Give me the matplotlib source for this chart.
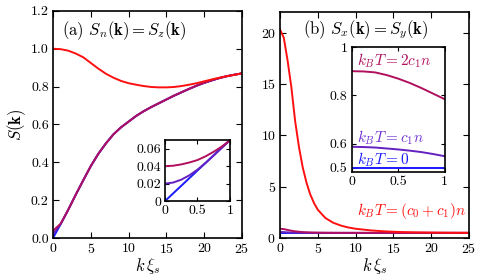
import matplotlib
matplotlib.use("Agg")
import matplotlib.pyplot as plt

plt.rcParams['font.family'] = 'cmr10'
plt.rcParams['mathtext.fontset'] = 'cm'
plt.rcParams['axes.formatter.use_mathtext'] = True
plt.rcParams['axes.unicode_minus'] = False

c_blue = '#1a1aff'
c_purple = '#6420c0'
c_crimson = '#b0105e'
c_red = '#ff1010'

# ---- panel (a): S_n(k) = S_z(k) ----
k_a = [0, 1, 2, 3, 4, 5, 6, 7, 8, 9, 10, 11, 12, 13, 14, 15, 16, 17, 18, 19,
       20, 21, 22, 23, 24, 25]
sn_T0 = [0, 0.072, 0.148, 0.228, 0.305, 0.38, 0.445, 0.5, 0.548, 0.585, 0.615,
         0.645, 0.67, 0.692, 0.712, 0.732, 0.752, 0.77, 0.788, 0.805, 0.82,
         0.833, 0.845, 0.855, 0.863, 0.87]
sn_c1 = [0.02, 0.073] + sn_T0[2:]
sn_2c1 = [0.038, 0.075] + sn_T0[2:]
sn_hot = [1.0, 0.998, 0.99, 0.975, 0.955, 0.925, 0.895, 0.868, 0.847, 0.83,
          0.818, 0.81, 0.803, 0.798, 0.796, 0.796, 0.798, 0.803, 0.81, 0.818,
          0.828, 0.838, 0.847, 0.855, 0.862, 0.87]

# inset (a), small k
k_ai = [0, 0.125, 0.25, 0.375, 0.5, 0.625, 0.75, 0.875, 1.0]
sni_T0 = [0, 0.00875, 0.0175, 0.02625, 0.035, 0.04375, 0.0525, 0.06125, 0.07]
sni_c1 = [0.02, 0.0212, 0.0245, 0.0295, 0.036, 0.0437, 0.0522, 0.061, 0.0695]
sni_2c1 = [0.04, 0.0405, 0.042, 0.0442, 0.047, 0.0513, 0.0565, 0.0625, 0.0695]

# ---- panel (b): S_x(k) = S_y(k) ----
k_b = [0, 0.5, 1, 1.5, 2, 2.5, 3, 3.5, 4, 4.5, 5, 6, 7, 8, 9, 10, 12, 14, 16,
       18, 20, 22, 25]
sx_T0 = [0.5] * len(k_b)
sx_c1 = [0.587, 0.576, 0.55, 0.535, 0.525, 0.518, 0.513, 0.51, 0.507, 0.505,
         0.504, 0.502, 0.501, 0.5, 0.5, 0.5, 0.5, 0.5, 0.5, 0.5, 0.5, 0.5, 0.5]
sx_2c1 = [0.9, 0.869, 0.784, 0.71, 0.65, 0.61, 0.575, 0.555, 0.54, 0.53, 0.522,
          0.512, 0.507, 0.504, 0.502, 0.501, 0.5, 0.5, 0.5, 0.5, 0.5, 0.5, 0.5]
sx_hot = [20.3, 19.5, 17.3, 14.7, 11.4, 8.9, 6.9, 5.4, 4.25, 3.4, 2.75, 1.95,
          1.5, 1.22, 1.03, 0.9, 0.74, 0.64, 0.58, 0.55, 0.53, 0.515, 0.505]

# inset (b)
k_bi = [0, 0.125, 0.25, 0.375, 0.5, 0.625, 0.75, 0.875, 1.0]
sxi_T0 = [0.5] * len(k_bi)
sxi_c1 = [0.587, 0.586, 0.584, 0.58, 0.576, 0.571, 0.565, 0.557, 0.548]
sxi_2c1 = [0.9, 0.899, 0.895, 0.884, 0.869, 0.851, 0.83, 0.807, 0.784]

fig = plt.figure(figsize=(4.84, 2.80), dpi=100)
ax1 = fig.add_axes([0.1095, 0.15, 0.3905, 0.811])
ax2 = fig.add_axes([0.5785, 0.15, 0.3905, 0.807])
ins1 = fig.add_axes([0.341, 0.282, 0.134, 0.218])
ins2 = fig.add_axes([0.727, 0.386, 0.192, 0.446])

lw = 1.4
for ax in (ax1, ax2, ins1, ins2):
    ax.tick_params(direction='in', top=True, right=True, labelsize=10,
                   length=4, width=0.8, pad=3)
    for s in ax.spines.values():
        s.set_linewidth(1.2)

# panel (a)
ax1.plot(k_a, sn_T0, color=c_blue, lw=lw)
ax1.plot(k_a, sn_c1, color=c_purple, lw=lw)
ax1.plot(k_a, sn_2c1, color=c_crimson, lw=lw)
ax1.plot(k_a, sn_hot, color=c_red, lw=lw)
ax1.set_xlim(0, 25)
ax1.set_ylim(0, 1.2)
ax1.set_xticks([0, 5, 10, 15, 20, 25])
ax1.set_yticks([0, 0.2, 0.4, 0.6, 0.8, 1.0, 1.2])
ax1.set_yticklabels(['0.0', '0.2', '0.4', '0.6', '0.8', '1.0', '1.2'])
ax1.set_xlabel(r'$k\,\xi_s$', fontsize=12, labelpad=0)
ax1.set_ylabel(r'$S(\mathbf{k})$', fontsize=12, labelpad=2)
ax1.text(0.045, 0.915, r'(a) $S_n(\mathbf{k})=S_z(\mathbf{k})$',
         transform=ax1.transAxes, fontsize=12, va='center', ha='left')

ins1.plot(k_ai, sni_T0, color=c_blue, lw=lw)
ins1.plot(k_ai, sni_c1, color=c_purple, lw=lw)
ins1.plot(k_ai, sni_2c1, color=c_crimson, lw=lw)
ins1.set_xlim(0, 1)
ins1.set_ylim(0, 0.07)
ins1.set_xticks([0, 0.5, 1])
ins1.set_xticklabels(['0', '0.5', '1'])
ins1.set_yticks([0, 0.02, 0.04, 0.06])
ins1.set_yticklabels(['0', '0.02', '0.04', '0.06'])
ins1.tick_params(length=3)

# panel (b)
ax2.plot(k_b, sx_T0, color=c_blue, lw=lw)
ax2.plot(k_b, sx_c1, color=c_purple, lw=lw)
ax2.plot(k_b, sx_2c1, color=c_crimson, lw=lw)
ax2.plot(k_b, sx_hot, color=c_red, lw=lw)
ax2.set_xlim(0, 25)
ax2.set_ylim(0, 22)
ax2.set_xticks([0, 5, 10, 15, 20, 25])
ax2.set_yticks([0, 5, 10, 15, 20])
ax2.set_xlabel(r'$k\,\xi_s$', fontsize=12, labelpad=0)
ax2.text(0.12, 0.92, r'(b) $S_x(\mathbf{k})=S_y(\mathbf{k})$',
         transform=ax2.transAxes, fontsize=12, va='center', ha='left')
ax2.text(0.41, 0.12, r'$k_BT=(c_0+c_1)n$', color=c_red,
         transform=ax2.transAxes, fontsize=11, va='center', ha='left')

ins2.plot(k_bi, sxi_T0, color=c_blue, lw=lw)
ins2.plot(k_bi, sxi_c1, color=c_purple, lw=lw)
ins2.plot(k_bi, sxi_2c1, color=c_crimson, lw=lw)
ins2.set_xlim(0, 1)
ins2.set_ylim(0.483, 1.0)
ins2.set_xticks([0, 0.5, 1])
ins2.set_xticklabels(['0', '0.5', '1'])
ins2.set_yticks([0.5, 0.6, 0.8, 1.0])
ins2.set_yticklabels(['0.5', '0.6', '0.8', '1'])
ins2.tick_params(length=3)
ins2.text(0.05, 0.89, r'$k_BT=2c_1n$', color=c_crimson,
          transform=ins2.transAxes, fontsize=11, va='center', ha='left')
ins2.text(0.05, 0.274, r'$k_BT=c_1n$', color='#7030d0',
          transform=ins2.transAxes, fontsize=11, va='center', ha='left')
ins2.text(0.05, 0.096, r'$k_BT=0$', color=c_blue,
          transform=ins2.transAxes, fontsize=11, va='center', ha='left')

fig.savefig('out.png', dpi=100)
